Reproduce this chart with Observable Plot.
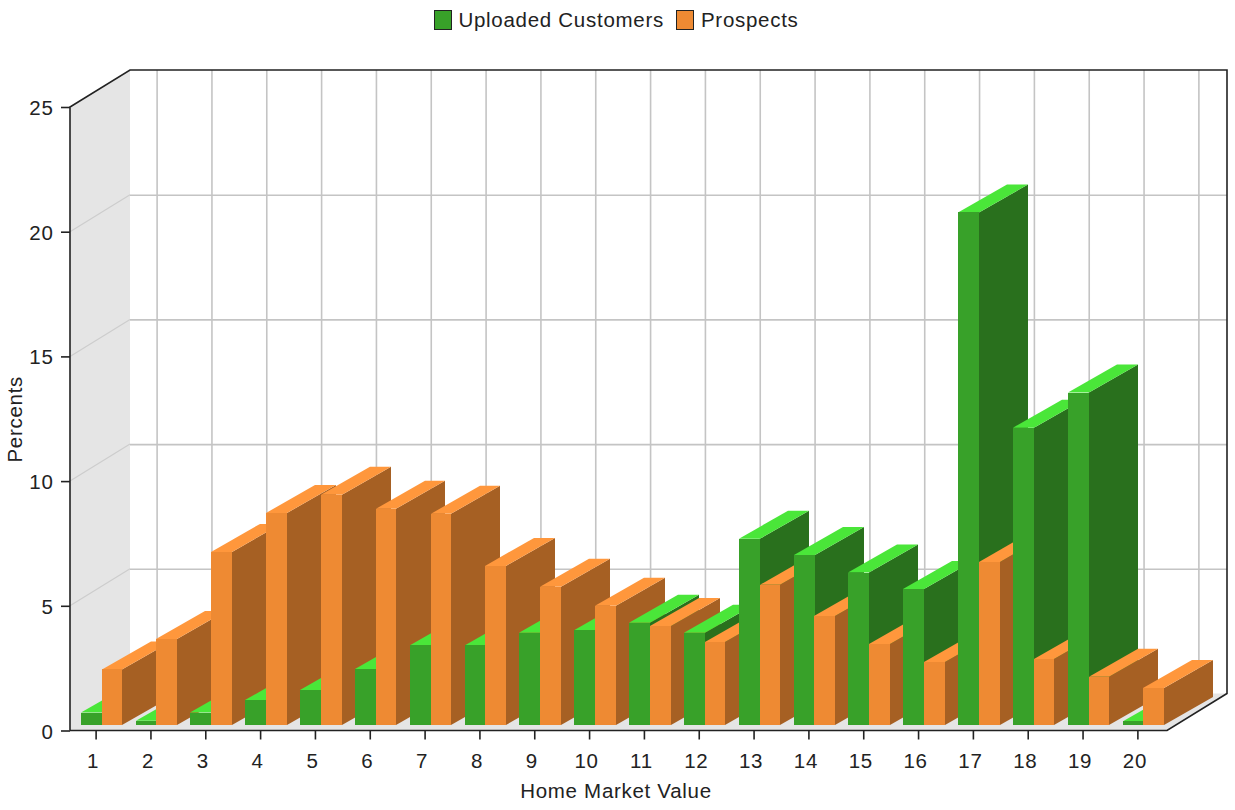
<!DOCTYPE html>
<html>
<head>
<meta charset="utf-8">
<script src="https://cdn.jsdelivr.net/npm/d3@7"></script>
<script src="https://cdn.jsdelivr.net/npm/@observablehq/plot@0.6"></script>
<style>
  html, body { margin: 0; padding: 0; background: #fff; }
  body { width: 1235px; font-family: "Liberation Sans", Arial, sans-serif; color: #222; }
  #legend { height: 40px; display: flex; justify-content: center; align-items: center; font-size: 20.5px; padding: 0 2px 0 0; box-sizing: border-box; letter-spacing: 0.72px; }
  #legend i { display: inline-block; width: 16px; height: 18px; border: 1.5px solid #222; margin-right: 6px; }
  #legend span { margin-right: 12px; }
  #legend span:last-child { margin-right: 0; margin-left: 1px; }
  svg { display: block; }
  svg text { letter-spacing: 0.7px; }
</style>
</head>
<body>
<div id="legend"></div>
<div id="chart"></div>
<script>
// Home market value bands, 1 to 20, and the share of each group in every band.
const categories = d3.range(1, 21);
const uploadedCustomers = [0.5, 0.17, 0.5, 1.0, 1.4, 2.25, 3.2, 3.2, 3.7, 3.8, 4.1, 3.7, 7.47, 6.82, 6.11, 5.45, 20.55, 11.92, 13.33, 0.15];
const prospects = [2.23, 3.45, 6.94, 8.5, 9.23, 8.67, 8.47, 6.38, 5.54, 4.78, 3.97, 3.33, 5.62, 4.37, 3.25, 2.53, 6.54, 2.65, 1.93, 1.48];
const yTicks = [0, 5, 10, 15, 20, 25];

const seriesNames = ["Uploaded Customers", "Prospects"];
const faceColors = [
  {front: "#38a129", side: "#29701d", top: "#4ae639"},
  {front: "#ee8a33", side: "#a66023", top: "#ff973c"}
];
const barInsets = [[12.6, 21.2], [33.4, 0.8]];

// Extrusion of the plot box and of the bars, in pixels.
const wallDepth = {dx: 60, dy: -37};
const barDepth = {dx: 49, dy: -28};
const barLift = -5.5;
const grey = "#c4c4c4";

function svgGroup() {
  return d3.create("svg:g");
}

// Left wall, floor and the slanted gridlines on the wall.
function shell(index, {y}, values, {marginLeft, width, marginRight}) {
  const g = svgGroup();
  const xl = marginLeft, xr = width - marginRight;
  const {dx, dy} = wallDepth;
  g.append("path").attr("fill", "#e5e5e5").attr("d",
    `M${xl},${y(25)}L${xl + dx},${y(25) + dy}L${xl + dx},${y(0) + dy}L${xr},${y(0) + dy}L${xr - dx},${y(0)}L${xl},${y(0)}Z`);
  for (const t of yTicks.filter((t) => t > 0 && t < 25)) {
    g.append("line").attr("stroke", "#cdcdcd").attr("stroke-width", 1.2)
      .attr("x1", xl).attr("y1", y(t)).attr("x2", xl + dx).attr("y2", y(t) + dy);
  }
  return g.node();
}

// Dark outline of the box: axis lines, top edge, right edge and both slanted corners.
function outline(index, {y}, values, {marginLeft, width, marginRight}) {
  const g = svgGroup();
  const xl = marginLeft, xr = width - marginRight;
  const {dx, dy} = wallDepth;
  g.append("path").attr("fill", "none").attr("stroke", "#222").attr("stroke-width", 1.6).attr("d",
    `M${xl},${y(0)}L${xl},${y(25)}L${xl + dx},${y(25) + dy}L${xr},${y(25) + dy}L${xr},${y(0) + dy}L${xr - dx},${y(0)}L${xl},${y(0)}`);
  return g.node();
}

// One bar: the flat front from the library, with the side and top faces behind it.
function prism(category, seriesIndex, value) {
  const [insetLeft, insetRight] = barInsets[seriesIndex];
  const colors = faceColors[seriesIndex];
  return Plot.barY([{category, value}], {
    x: "category",
    y: "value",
    fill: colors.front,
    insetLeft,
    insetRight,
    dy: barLift,
    shapeRendering: "crispEdges",
    render(index, scales, values, dimensions, context, next) {
      const node = next(index, scales, values, dimensions, context);
      const first = node.firstChild;
      for (const i of index) {
        // Whole-pixel corners keep the faces flush with the crisp front rectangle.
        const x0 = Math.round(values.x[i] + insetLeft);
        const x1 = Math.round(values.x[i] + scales.x.bandwidth() - insetRight);
        const top = values.y2[i], base = values.y1[i];
        const {dx, dy} = barDepth;
        const side = d3.create("svg:path")
          .attr("fill", colors.side).attr("shape-rendering", "auto")
          .attr("d", `M${x1},${top}L${x1 + dx},${top + dy}L${x1 + dx},${base + dy}L${x1},${base}Z`);
        const lid = d3.create("svg:path")
          .attr("fill", colors.top).attr("shape-rendering", "auto")
          .attr("d", `M${x0},${top}L${x0 + dx},${top + dy}L${x1 + dx},${top + dy}L${x1},${top}Z`);
        node.insertBefore(side.node(), first);
        node.insertBefore(lid.node(), first);
      }
      return node;
    }
  });
}

// Bars are painted left to right, customers before prospects in each band.
const bars = categories.flatMap((c, i) => [
  prism(c, 0, uploadedCustomers[i]),
  prism(c, 1, prospects[i])
]);

const chart = Plot.plot({
  width: 1235,
  height: 770,
  marginLeft: 70,
  marginRight: 8,
  marginTop: 67,
  marginBottom: 79.5,
  style: {fontFamily: '"Liberation Sans", Arial, sans-serif', background: "#fff", color: "#222"},
  x: {type: "band", domain: categories, range: [68.2, 1164.8], padding: 0, round: false},
  y: {domain: [0, 25], nice: false},
  marks: [
    shell,
    Plot.ruleY(yTicks.filter((t) => t > 0 && t < 25), {
      y: (d) => d, insetLeft: wallDepth.dx, dy: wallDepth.dy, stroke: grey, strokeWidth: 1.6
    }),
    Plot.ruleX(categories, {
      x: (d) => d, y1: 0, y2: 25, dx: wallDepth.dx + 1, dy: wallDepth.dy, stroke: grey, strokeWidth: 1.6
    }),
    ...bars,
    outline,
    // Tick strokes and their labels are separate so the labels can sit slightly off the ticks.
    Plot.axisY({ticks: yTicks, tickSize: 9, label: null, fill: "none", stroke: "#222", strokeWidth: 1.6}),
    Plot.axisY({ticks: yTicks, tickSize: 0, tickPadding: 17, dy: 1, label: null, fontSize: 20.5, fill: "#222"}),
    Plot.axisX({ticks: categories, tickSize: 9, label: null, fill: "none", stroke: "#222", strokeWidth: 1.6}),
    Plot.axisX({ticks: categories, tickSize: 0, tickPadding: 22, dx: -3, label: null, fontSize: 20.5, fill: "#222"}),
    Plot.text(["Home Market Value"], {frameAnchor: "bottom", dx: -33, dy: 60, fontSize: 20.5, fill: "#222", lineAnchor: "middle"}),
    Plot.text(["Percents"], {frameAnchor: "left", dx: -55, rotate: -90, textAnchor: "middle", fontSize: 20.5, fill: "#222"})
  ]
});
document.getElementById("chart").append(chart);

// Legend row above the chart.
const legend = d3.select("#legend");
seriesNames.forEach((name, i) => {
  legend.append("i").style("background", faceColors[i].front);
  legend.append("span").text(name);
});
</script>
</body>
</html>
